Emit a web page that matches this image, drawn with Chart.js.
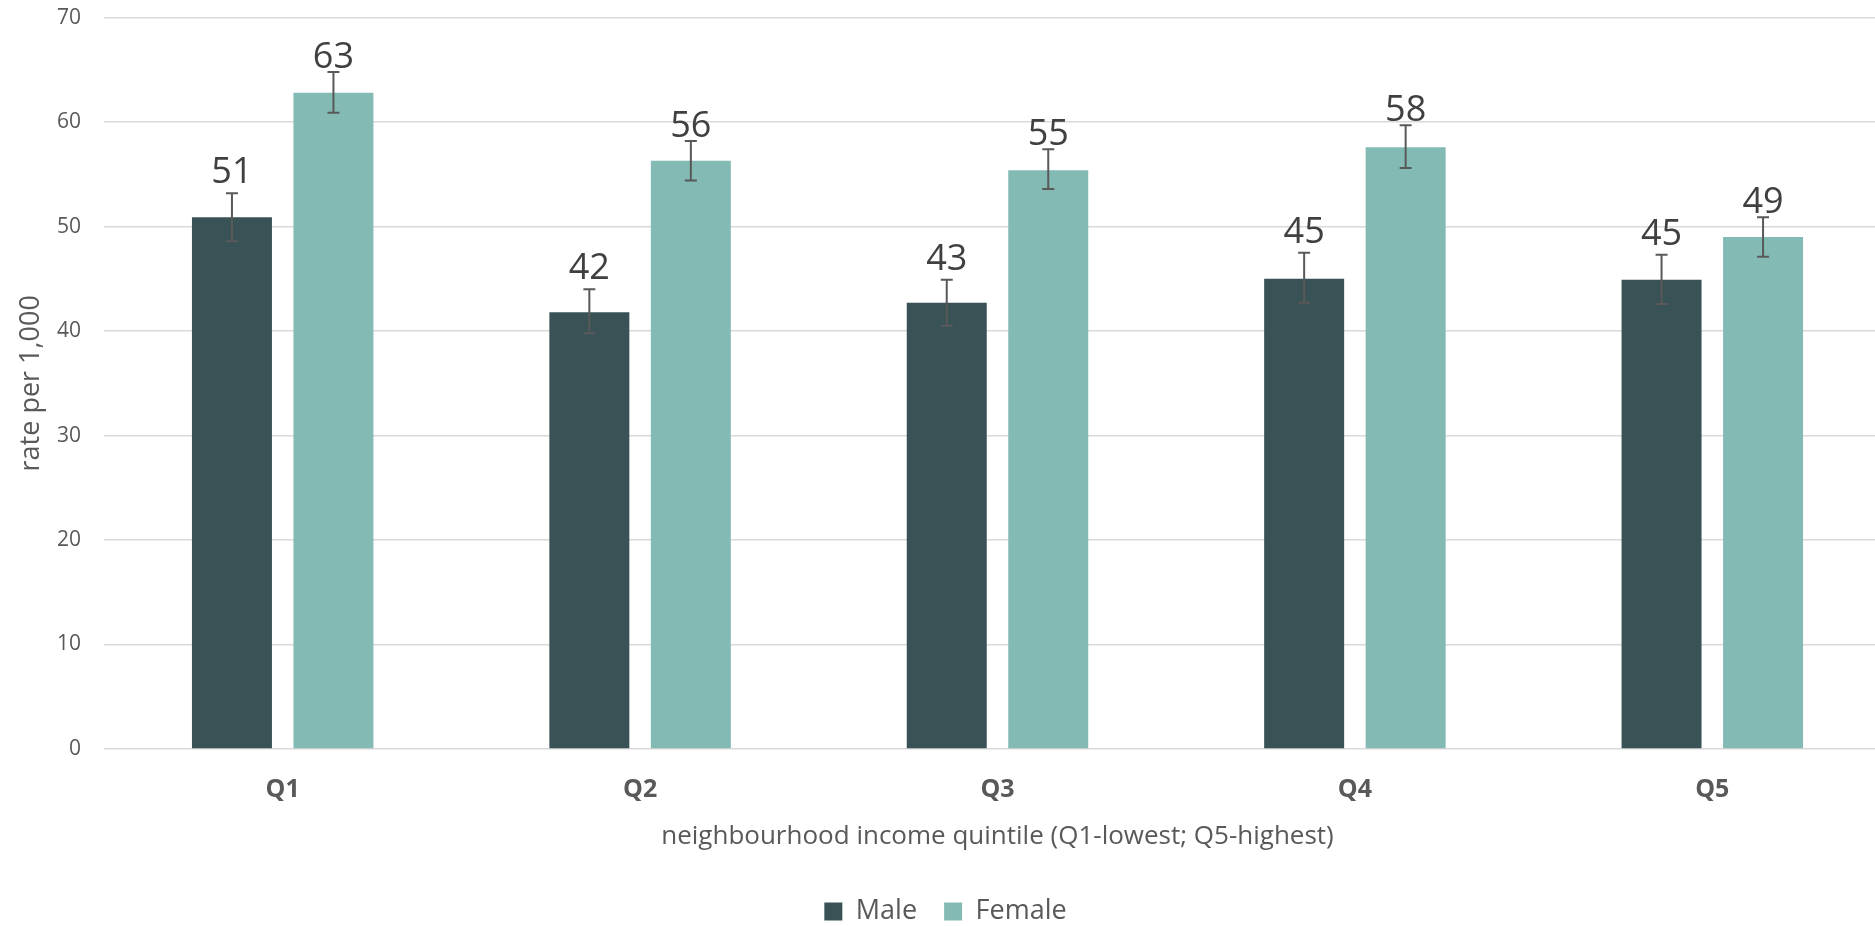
<!DOCTYPE html>
<html>
<head>
<meta charset="utf-8">
<script src="https://cdn.jsdelivr.net/npm/chart.js@4.4.1/dist/chart.umd.min.js"></script>
<style>
    html, body { margin: 0; padding: 0; background: #fff; overflow: hidden; }
    #wrap { position: relative; width: 1893px; height: 953px; margin-top: -18px; }
</style>
</head>
<body>
<div id="wrap"><canvas id="chart"></canvas></div>
<script>
// 차트 데이터
const quintiles = ['Q1', 'Q2', 'Q3', 'Q4', 'Q5'];
const maleRates = [50.9, 41.8, 42.7, 45.0, 44.9];
const femaleRates = [62.8, 56.3, 55.4, 57.6, 49.0];
const maleLow = [48.6, 39.8, 40.5, 42.7, 42.6];
const maleHigh = [53.2, 44.0, 44.9, 47.5, 47.3];
const femaleLow = [60.9, 54.4, 53.6, 55.6, 47.1];
const femaleHigh = [64.8, 58.2, 57.4, 59.7, 50.9];
const yTicks = [0, 10, 20, 30, 40, 50, 60, 70];

const FONT = '"Open Sans", "Liberation Sans", sans-serif';
const GREY = '#595959';

const errorRanges = [
    { low: maleLow, high: maleHigh },
    { low: femaleLow, high: femaleHigh }
];

// 오차 막대 + 값 라벨 플러그인
const errorBarPlugin = {
    id: 'errorBars',
    afterDatasetsDraw(chart) {
        const ctx = chart.ctx;
        const yScale = chart.scales.y;
        ctx.save();
        chart.data.datasets.forEach((ds, di) => {
            const meta = chart.getDatasetMeta(di);
            const gap = ds.labelGap || 2;
            meta.data.forEach((bar, i) => {
                const x = bar.x;
                const yHi = yScale.getPixelForValue(errorRanges[di].high[i]);
                const yLo = yScale.getPixelForValue(errorRanges[di].low[i]);
                ctx.strokeStyle = GREY;
                ctx.lineWidth = 2;
                ctx.beginPath();
                ctx.moveTo(x, yHi);
                ctx.lineTo(x, yLo);
                ctx.moveTo(x - 6, yHi);
                ctx.lineTo(x + 6, yHi);
                ctx.moveTo(x - 6, yLo);
                ctx.lineTo(x + 6, yLo);
                ctx.stroke();

                // 값 라벨
                ctx.fillStyle = '#404040';
                ctx.font = '36px ' + FONT;
                ctx.textAlign = 'center';
                ctx.textBaseline = 'alphabetic';
                ctx.fillText(ds.data[i].toFixed(0), x, yHi - gap);
            });
        });
        ctx.restore();
    }
};

const ctx = document.getElementById('chart').getContext('2d');
new Chart(ctx, {
    type: 'bar',
    data: {
        labels: quintiles,
        datasets: [{
            label: 'Male',
            data: maleRates,
            backgroundColor: '#385256',
            borderWidth: 0,
            categoryPercentage: 0.568,
            barPercentage: 0.788,
            labelGap: 10
        }, {
            label: 'Female',
            data: femaleRates,
            backgroundColor: '#83BAB4',
            borderWidth: 0,
            categoryPercentage: 0.568,
            barPercentage: 0.788,
            labelGap: 4
        }]
    },
    options: {
        responsive: true,
        maintainAspectRatio: false,
        animation: false,
        layout: { padding: { top: 1, right: 2, left: 0, bottom: 0 } },
        plugins: {
            tooltip: { enabled: false },
            legend: {
                position: 'bottom',
                labels: {
                    boxWidth: 18,
                    boxHeight: 18,
                    padding: 27,
                    color: GREY,
                    font: { family: FONT, size: 27 }
                }
            }
        },
        scales: {
            x: {
                grid: { display: false },
                border: { display: false },
                ticks: {
                    color: GREY,
                    padding: 18,
                    font: { family: FONT, size: 25, weight: 'bold' }
                },
                title: {
                    display: true,
                    text: 'neighbourhood income quintile (Q1-lowest; Q5-highest)',
                    color: GREY,
                    padding: { top: 19, bottom: 19 },
                    font: { family: FONT, size: 26 }
                },
                afterFit(scale) { scale.height = 122; }
            },
            y: {
                min: 0,
                max: 70,
                afterBuildTicks(scale) {
                    scale.ticks = yTicks.map(v => ({ value: v }));
                },
                grid: {
                    color: '#d9d9d9',
                    lineWidth: 1.5,
                    drawTicks: false
                },
                border: { display: false },
                ticks: {
                    color: GREY,
                    padding: 23,
                    font: { family: FONT, size: 21 }
                },
                title: {
                    display: true,
                    text: 'rate per 1,000',
                    color: GREY,
                    padding: { top: 15, bottom: 15 },
                    font: { family: FONT, size: 27 }
                },
                afterFit(scale) { scale.width = 104; }
            }
        }
    },
    plugins: [errorBarPlugin]
});
</script>
</body>
</html>
